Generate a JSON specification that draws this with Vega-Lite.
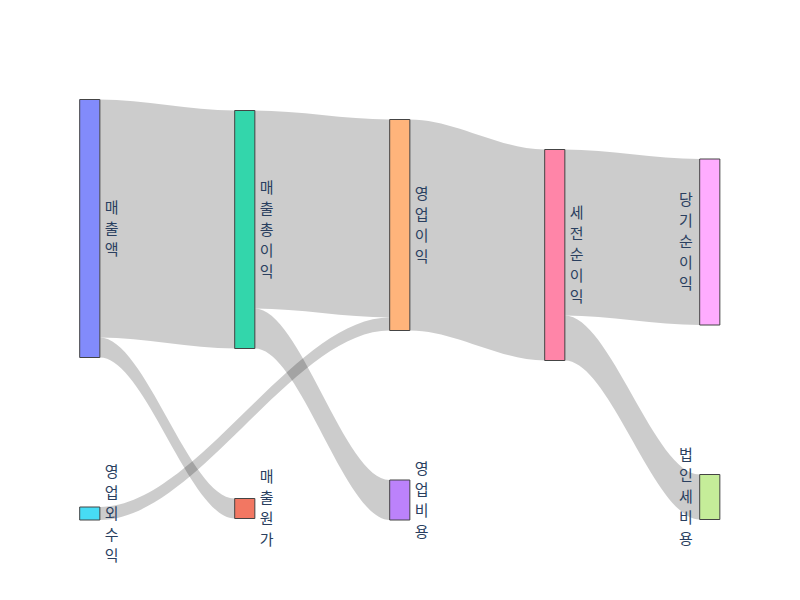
{
  "$schema": "https://vega.github.io/schema/vega-lite/v6.json",
  "width": 800,
  "height": 600,
  "autosize": "none",
  "padding": 0,
  "background": "white",
  "config": {"view": {"stroke": null}},
  "datasets": {
    "nodes": [
      {"label": "매출액", "x0": 0, "x1": 0.13, "y0": 99.5, "y1": 357.5},
      {"label": "영업외수익", "x0": 0, "x1": 0.13, "y0": 507, "y1": 520},
      {"label": "매출총이익", "x0": 1, "x1": 1.13, "y0": 110.5, "y1": 348.5},
      {"label": "매출원가", "x0": 1, "x1": 1.13, "y0": 498.5, "y1": 518.5},
      {"label": "영업이익", "x0": 2, "x1": 2.13, "y0": 119.5, "y1": 330.5},
      {"label": "영업비용", "x0": 2, "x1": 2.13, "y0": 480, "y1": 520},
      {"label": "세전순이익", "x0": 3, "x1": 3.13, "y0": 149.5, "y1": 360.5},
      {"label": "당기순이익", "x0": 4, "x1": 4.13, "y0": 159, "y1": 325},
      {"label": "법인세비용", "x0": 4, "x1": 4.13, "y0": 474.5, "y1": 519.5}
    ],
    "links": [
      {"link": "매출액→매출총이익", "x": 0, "y0": 99.5, "y1": 337.5},
      {"link": "매출액→매출총이익", "x": 0.13, "y0": 99.5, "y1": 337.5},
      {"link": "매출액→매출총이익", "x": 1, "y0": 110.5, "y1": 348.5},
      {"link": "매출액→매출총이익", "x": 1.13, "y0": 110.5, "y1": 348.5},
      {"link": "매출액→매출원가", "x": 0, "y0": 337.5, "y1": 357.5},
      {"link": "매출액→매출원가", "x": 0.13, "y0": 337.5, "y1": 357.5},
      {"link": "매출액→매출원가", "x": 1, "y0": 498.5, "y1": 518.5},
      {"link": "매출액→매출원가", "x": 1.13, "y0": 498.5, "y1": 518.5},
      {"link": "매출총이익→영업이익", "x": 1, "y0": 110.5, "y1": 308.5},
      {"link": "매출총이익→영업이익", "x": 1.13, "y0": 110.5, "y1": 308.5},
      {"link": "매출총이익→영업이익", "x": 2, "y0": 119.5, "y1": 317.5},
      {"link": "매출총이익→영업이익", "x": 2.13, "y0": 119.5, "y1": 317.5},
      {"link": "매출총이익→영업비용", "x": 1, "y0": 308.5, "y1": 348.5},
      {"link": "매출총이익→영업비용", "x": 1.13, "y0": 308.5, "y1": 348.5},
      {"link": "매출총이익→영업비용", "x": 2, "y0": 480, "y1": 520},
      {"link": "매출총이익→영업비용", "x": 2.13, "y0": 480, "y1": 520},
      {"link": "영업외수익→영업이익", "x": 0, "y0": 507, "y1": 520},
      {"link": "영업외수익→영업이익", "x": 0.13, "y0": 507, "y1": 520},
      {"link": "영업외수익→영업이익", "x": 2, "y0": 317.5, "y1": 330.5},
      {"link": "영업외수익→영업이익", "x": 2.13, "y0": 317.5, "y1": 330.5},
      {"link": "영업이익→세전순이익", "x": 2, "y0": 119.5, "y1": 330.5},
      {"link": "영업이익→세전순이익", "x": 2.13, "y0": 119.5, "y1": 330.5},
      {"link": "영업이익→세전순이익", "x": 3, "y0": 149.5, "y1": 360.5},
      {"link": "영업이익→세전순이익", "x": 3.13, "y0": 149.5, "y1": 360.5},
      {"link": "세전순이익→당기순이익", "x": 3, "y0": 149.5, "y1": 315.5},
      {"link": "세전순이익→당기순이익", "x": 3.13, "y0": 149.5, "y1": 315.5},
      {"link": "세전순이익→당기순이익", "x": 4, "y0": 159, "y1": 325},
      {"link": "세전순이익→당기순이익", "x": 4.13, "y0": 159, "y1": 325},
      {"link": "세전순이익→법인세비용", "x": 3, "y0": 315.5, "y1": 360.5},
      {"link": "세전순이익→법인세비용", "x": 3.13, "y0": 315.5, "y1": 360.5},
      {"link": "세전순이익→법인세비용", "x": 4, "y0": 474.5, "y1": 519.5},
      {"link": "세전순이익→법인세비용", "x": 4.13, "y0": 474.5, "y1": 519.5}
    ]
  },
  "layer": [
    {
      "data": {"name": "links"},
      "mark": {"type": "area", "interpolate": "monotone", "color": "black", "fillOpacity": 0.2, "opacity": 1},
      "encoding": {
        "x": {"field": "x", "type": "quantitative", "scale": {"domain": [-0.5142, 4.6471], "nice": false, "zero": false}, "axis": null},
        "y": {"field": "y0", "type": "quantitative", "stack": null, "scale": {"domain": [0, 600], "reverse": true, "nice": false, "zero": false}, "axis": null},
        "y2": {"field": "y1"},
        "detail": {"field": "link", "type": "nominal"}
      }
    },
    {
      "data": {"name": "nodes"},
      "mark": {"type": "rect", "stroke": "#444", "strokeWidth": 1, "opacity": 1},
      "encoding": {
        "x": {"field": "x0", "type": "quantitative", "scale": {"domain": [-0.5142, 4.6471], "nice": false, "zero": false}, "axis": null},
        "x2": {"field": "x1"},
        "y": {"field": "y0", "type": "quantitative", "scale": {"domain": [0, 600], "reverse": true, "nice": false, "zero": false}, "axis": null},
        "y2": {"field": "y1"},
        "color": {
          "field": "label", "type": "nominal", "legend": null,
          "scale": {
            "domain": ["매출액", "매출원가", "매출총이익", "영업비용", "영업이익", "영업외수익", "세전순이익", "법인세비용", "당기순이익"],
            "range": ["#828bfb", "#f27762", "#33d6ab", "#bc82fb", "#ffb47b", "#47dcf5", "#ff85a8", "#c5ed99", "#ffacff"]
          }
        }
      }
    },
    {
      "data": {"name": "nodes"},
      "transform": [
        {"filter": "datum.x0 < 4"},
        {"calculate": "(datum.y0 + datum.y1) / 2 - (length(datum.label) - 1) * 10.5", "as": "yc"},
        {"calculate": "join(split(datum.label, ''), '\\n')", "as": "vlabel"}
      ],
      "mark": {"type": "text", "align": "left", "baseline": "middle", "dx": 5, "fontSize": 15, "lineHeight": 21, "lineBreak": "\n", "font": "Noto Sans CJK KR", "color": "#2a3f5f"},
      "encoding": {
        "x": {"field": "x1", "type": "quantitative", "scale": {"domain": [-0.5142, 4.6471], "nice": false, "zero": false}, "axis": null},
        "y": {"field": "yc", "type": "quantitative", "scale": {"domain": [0, 600], "reverse": true, "nice": false, "zero": false}, "axis": null},
        "text": {"field": "vlabel", "type": "nominal"}
      }
    },
    {
      "data": {"name": "nodes"},
      "transform": [
        {"filter": "datum.x0 >= 4"},
        {"calculate": "(datum.y0 + datum.y1) / 2 - (length(datum.label) - 1) * 10.5", "as": "yc"},
        {"calculate": "join(split(datum.label, ''), '\\n')", "as": "vlabel"}
      ],
      "mark": {"type": "text", "align": "right", "baseline": "middle", "dx": -7, "fontSize": 15, "lineHeight": 21, "lineBreak": "\n", "font": "Noto Sans CJK KR", "color": "#2a3f5f"},
      "encoding": {
        "x": {"field": "x0", "type": "quantitative", "scale": {"domain": [-0.5142, 4.6471], "nice": false, "zero": false}, "axis": null},
        "y": {"field": "yc", "type": "quantitative", "scale": {"domain": [0, 600], "reverse": true, "nice": false, "zero": false}, "axis": null},
        "text": {"field": "vlabel", "type": "nominal"}
      }
    }
  ]
}
